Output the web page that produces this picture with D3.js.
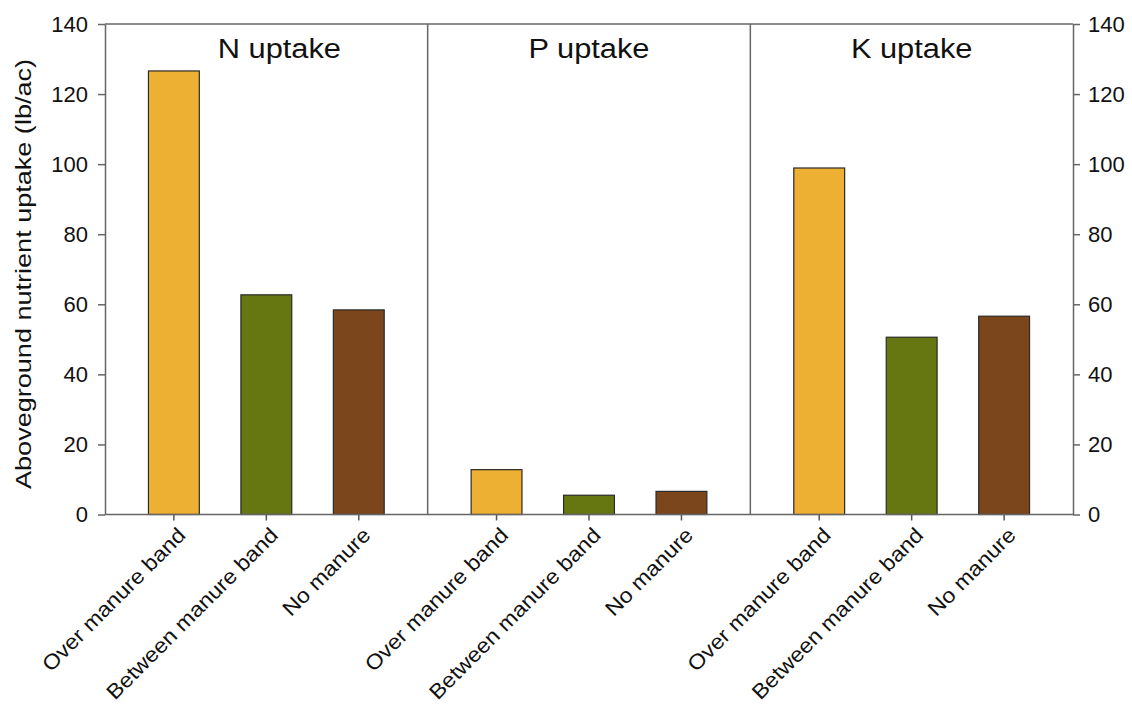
<!DOCTYPE html>
<html>
<head>
<meta charset="utf-8">
<script src="https://cdn.jsdelivr.net/npm/d3@7"></script>
<style>
  body { margin: 0; background: #fff; }
  svg text { font-family: "Liberation Sans", Arial, sans-serif; fill: #111; }
</style>
</head>
<body>
<svg width="1132" height="706"></svg>
<script>
// data
var panels = ["N uptake", "P uptake", "K uptake"];
var treatments = ["Over manure band", "Between manure band", "No manure"];
var nUptake = [126.6, 62.7, 58.4];
var pUptake = [12.8, 5.5, 6.6];
var kUptake = [98.9, 50.6, 56.6];
var yTicks = [0, 20, 40, 60, 80, 100, 120, 140];
var colors = ["#eeb033", "#667712", "#7b461c"];

var values = [nUptake, pUptake, kUptake];

var svg = d3.select("svg");
var plotLeft = 105, plotRight = 1073, plotTop = 24, plotBottom = 514.5;
var stretch = 1.1; // reference text looks slightly wide

var y = d3.scaleLinear().domain([0, 140]).range([plotBottom, plotTop]);

var panelX = d3.scaleBand()
    .domain(panels)
    .range([plotLeft, plotRight])
    .padding(0);

var x = d3.scaleBand()
    .domain(treatments)
    .range([0, panelX.bandwidth()])
    .paddingInner(0.45)
    .paddingOuter(0.47);

// frame lines
svg.append("line")
    .attr("x1", plotLeft).attr("x2", plotRight)
    .attr("y1", plotTop).attr("y2", plotTop)
    .style("stroke", "#666").style("stroke-width", 1.5);

panels.slice(1).forEach(function(p) {
    svg.append("line")
        .attr("x1", panelX(p)).attr("x2", panelX(p))
        .attr("y1", plotTop).attr("y2", plotBottom)
        .style("stroke", "#666").style("stroke-width", 1.5);
});

// bars
panels.forEach(function(p, i) {
    var g = svg.append("g").attr("transform", "translate(" + panelX(p) + ",0)");

    g.selectAll(".bar")
        .data(values[i])
        .enter().append("rect")
        .attr("class", "bar")
        .attr("x", function(d, j) { return x(treatments[j]); })
        .attr("y", function(d) { return y(d); })
        .attr("width", x.bandwidth())
        .attr("height", function(d) { return plotBottom - y(d); })
        .style("fill", function(d, j) { return colors[j]; })
        .style("stroke", "#2a2a2a")
        .style("stroke-width", 1.2);

    // panel title
    var tx = panelX(p) + panelX.bandwidth() / 2 + (i === 0 ? 13 : 0);
    svg.append("text")
        .attr("transform", "translate(" + tx + ",58) scale(" + stretch + ",1)")
        .attr("text-anchor", "middle")
        .style("font-size", "28px")
        .text(p);

    // bottom axis for this panel
    var xAxis = d3.axisBottom(x).tickSize(6).tickFormat("");
    var ax = svg.append("g")
        .attr("transform", "translate(" + panelX(p) + "," + plotBottom + ")")
        .call(xAxis);
    ax.select(".domain").remove();
    ax.selectAll(".tick line").style("stroke", "#555").style("stroke-width", 1.5);

    g.selectAll(".xlab")
        .data(treatments)
        .enter().append("text")
        .attr("class", "xlab")
        .attr("text-anchor", "end")
        .attr("transform", function(d) {
            var cx = x(d) + x.bandwidth() / 2;
            return "translate(" + (cx + 13) + "," + (plotBottom + 22) + ") rotate(-45) scale(" + stretch + ",1)";
        })
        .style("font-size", "21px")
        .text(function(d) { return d; });
});

// bottom line
svg.append("line")
    .attr("x1", plotLeft).attr("x2", plotRight)
    .attr("y1", plotBottom).attr("y2", plotBottom)
    .style("stroke", "#666").style("stroke-width", 1.5);

// y axes
var yLeft = svg.append("g")
    .attr("transform", "translate(" + plotLeft + ",0)")
    .call(d3.axisLeft(y).tickValues(yTicks).tickSize(7).tickSizeOuter(0).tickPadding(10));
var yRight = svg.append("g")
    .attr("transform", "translate(" + plotRight + ",0)")
    .call(d3.axisRight(y).tickValues(yTicks).tickSize(7).tickSizeOuter(0).tickPadding(8));

[yLeft, yRight].forEach(function(a) {
    a.select(".domain").style("stroke", "#666").style("stroke-width", 1.5);
    a.selectAll(".tick line").style("stroke", "#666").style("stroke-width", 1.5);
    a.selectAll(".tick text")
        .style("font-size", "22px")
        .style("font-family", "'Liberation Sans', Arial, sans-serif")
        .style("fill", "#111");
});

svg.append("text")
    .attr("transform", "translate(31,274) rotate(-90)")
    .attr("text-anchor", "middle")
    .attr("textLength", 430)
    .attr("lengthAdjust", "spacingAndGlyphs")
    .style("font-size", "22px")
    .text("Aboveground nutrient uptake (lb/ac)");
</script>
</body>
</html>
